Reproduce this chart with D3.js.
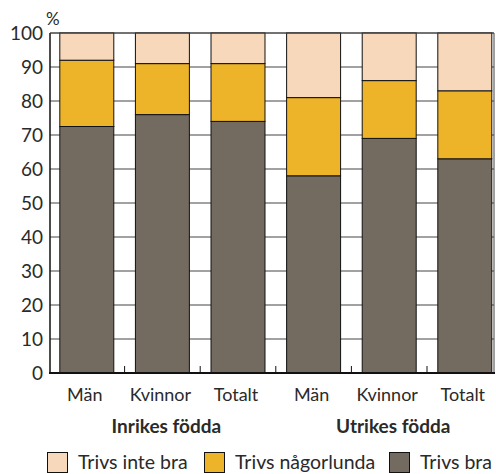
<!DOCTYPE html>
<html>
<head>
<meta charset="utf-8">
<script src="https://cdn.jsdelivr.net/npm/d3@7"></script>
<style>
  body { margin: 0; background: #fff; }
  text { font-family: Lato, "Open Sans", sans-serif; fill: #2a2a2a; }
</style>
</head>
<body>
<div id="chart-area"></div>
<script>
// data
var groups = ["Inrikes födda", "Utrikes födda"];
var categories = ["Män", "Kvinnor", "Totalt", "Män", "Kvinnor", "Totalt"];
var categoryGroup = [0, 0, 0, 1, 1, 1];
var trivsBra = [72.5, 76, 74, 58, 69, 63];
var trivsNagorlunda = [19.5, 15, 17, 23, 17, 20];
var trivsInteBra = [8, 9, 9, 19, 14, 17];
var seriesNames = ["Trivs inte bra", "Trivs någorlunda", "Trivs bra"];
var seriesColors = ["#f7d8bb", "#edb42a", "#736a60"];
var yTicks = [0, 10, 20, 30, 40, 50, 60, 70, 80, 90, 100];

var W = 496, H = 474;
var plot = { left: 50, right: 494, top: 33, bottom: 373 };

var svg = d3.select("#chart-area").append("svg")
    .attr("width", W).attr("height", H);

var y = d3.scaleLinear().domain([0, 100]).range([plot.bottom, plot.top]);

var x = d3.scaleBand()
    .domain(d3.range(categories.length))
    .range([plot.left - 1, plot.left + 6 * 75.6 - 1])
    .paddingInner(0.286)
    .paddingOuter(0.143);

// grid
svg.append("g").selectAll("line")
    .data(yTicks.filter(function(d){ return d > 0; }))
    .enter().append("line")
    .attr("x1", plot.left).attr("x2", plot.right)
    .attr("y1", function(d){ return y(d); })
    .attr("y2", function(d){ return y(d); })
    .attr("stroke", "#444").attr("stroke-width", 1);

// stack
var rows = categories.map(function(c, i){
    return { i: i, bra: trivsBra[i], nag: trivsNagorlunda[i], inte: trivsInteBra[i] };
});
var stack = d3.stack().keys(["bra", "nag", "inte"]);
var stacked = stack(rows);
var keyColor = { bra: seriesColors[2], nag: seriesColors[1], inte: seriesColors[0] };

svg.append("g").selectAll("g")
    .data(stacked)
    .enter().append("g")
    .attr("fill", function(s){ return keyColor[s.key]; })
    .selectAll("rect")
    .data(function(s){ return s; })
    .enter().append("rect")
    .attr("x", function(d){ return x(d.data.i); })
    .attr("width", x.bandwidth())
    .attr("y", function(d){ return y(Math.min(d[1], 100)); })
    .attr("height", function(d){ return y(d[0]) - y(Math.min(d[1], 100)); })
    .attr("stroke", "#111").attr("stroke-width", 1);

// frame
svg.append("line").attr("x1", plot.left).attr("x2", plot.left)
    .attr("y1", plot.top).attr("y2", plot.bottom).attr("stroke", "#111").attr("stroke-width", 1.5);
svg.append("line").attr("x1", plot.right).attr("x2", plot.right)
    .attr("y1", plot.top).attr("y2", plot.bottom).attr("stroke", "#444").attr("stroke-width", 1);
svg.append("line").attr("x1", plot.left).attr("x2", plot.right)
    .attr("y1", plot.top).attr("y2", plot.top).attr("stroke", "#444").attr("stroke-width", 1);
svg.append("line").attr("x1", plot.left - 1).attr("x2", plot.right + 1)
    .attr("y1", plot.bottom).attr("y2", plot.bottom).attr("stroke", "#111").attr("stroke-width", 2);

// small ticks between bars
svg.append("g").selectAll("line")
    .data(d3.range(1, categories.length))
    .enter().append("line")
    .attr("x1", function(i){ return x(i) - x.step() * x.paddingInner() / 2; })
    .attr("x2", function(i){ return x(i) - x.step() * x.paddingInner() / 2; })
    .attr("y1", plot.bottom - 7).attr("y2", plot.bottom)
    .attr("stroke", "#111").attr("stroke-width", 1);

// y labels
svg.append("g").selectAll("text")
    .data(yTicks)
    .enter().append("text")
    .attr("x", plot.left - 7)
    .attr("y", function(d){ return y(d) + 7; })
    .attr("text-anchor", "end")
    .attr("font-size", "19px")
    .text(function(d){ return d; });

svg.append("text")
    .attr("x", 46).attr("y", 25)
    .attr("font-size", "17px")
    .text("%");

// x labels
svg.append("g").selectAll("text")
    .data(categories)
    .enter().append("text")
    .attr("x", function(d, i){ return x(i) + x.bandwidth() / 2 - 2; })
    .attr("y", plot.bottom + 28)
    .attr("text-anchor", "middle")
    .attr("font-size", "18px")
    .text(function(d){ return d; });

// group labels
svg.append("g").selectAll("text")
    .data(groups)
    .enter().append("text")
    .attr("x", function(g, gi){
        var idx = d3.range(categories.length).filter(function(i){ return categoryGroup[i] === gi; });
        return (x(idx[0]) + x(idx[idx.length - 1]) + x.bandwidth()) / 2 + 4;
    })
    .attr("y", plot.bottom + 60)
    .attr("text-anchor", "middle")
    .attr("font-size", "19px")
    .attr("font-weight", "bold")
    .text(function(d){ return d; });

// legend
var legendX = [47, 204, 389];
var lg = svg.append("g").selectAll("g")
    .data(seriesNames)
    .enter().append("g")
    .attr("transform", function(d, i){ return "translate(" + legendX[i] + "," + 452 + ")"; });
lg.append("rect")
    .attr("x", 0.5).attr("y", 0.5)
    .attr("width", 20).attr("height", 20)
    .attr("fill", function(d, i){ return seriesColors[i]; })
    .attr("stroke", "#111").attr("stroke-width", 1);
lg.append("text")
    .attr("x", 31).attr("y", 17)
    .attr("font-size", "19.5px")
    .text(function(d){ return d; });
</script>
</body>
</html>
